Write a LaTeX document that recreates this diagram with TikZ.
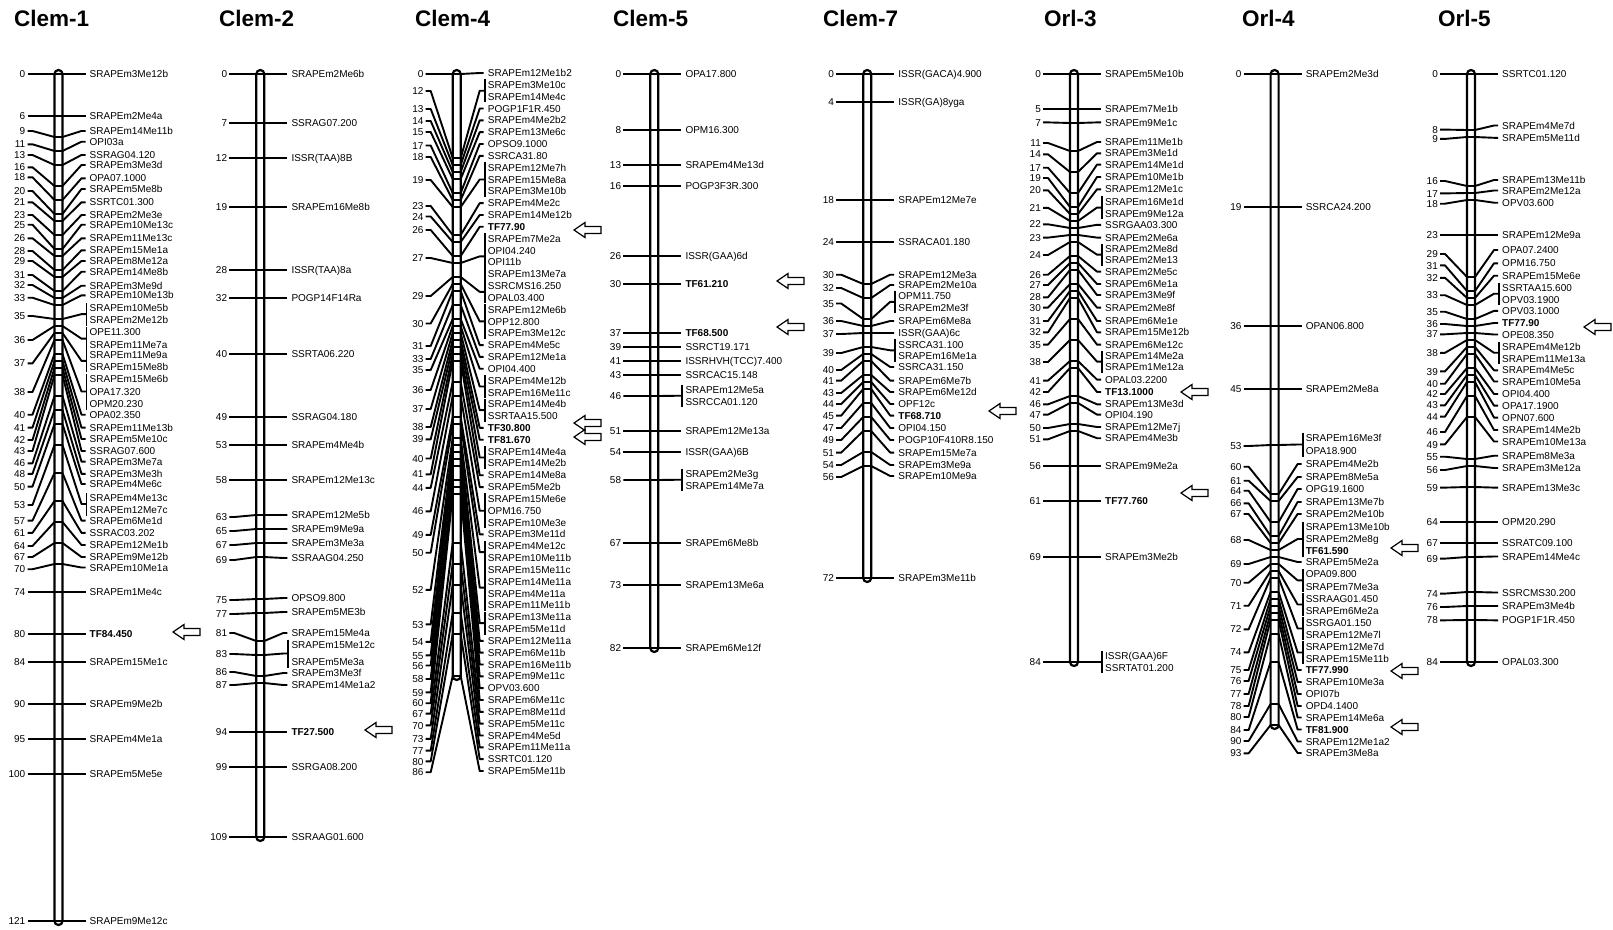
\documentclass[tikz,border=0pt]{standalone}
\usepackage{fontspec}
\setmainfont{Liberation Sans}
\newcommand\lbl{\fontsize{10}{11}\selectfont}
\newcounter{mkc}
% current linkage group: id and bar centre
\newcommand\setchr[2]{\def\cid{#1}\def\bx{#2}}
\newcommand\chrbar[1]{\draw[chrom] ({\bx-4},70) rectangle ({\bx+4},{#1});}
% row of a crowded label column
\newcommand\rw[1]{(73+11.83*(#1-1))}
% marker name
\newcommand\nm[3][]{\stepcounter{mkc}\node[lab,#1] (\cid-m\arabic{mkc}) at ({\bx+31},{#2}) {#3};}
% single marker: [style]{cM}{left y}{right y}{name}
\newcommand\mk[5][]{%
  \node[num] (\cid-#2) at ({\bx-33},{#3}) {#2};
  \nm[#1]{#4}{#5}%
  \draw[tick] (\cid-#2.east) ++(2,0) -- ++(5,0) -- ({\bx-4},{74+7*#2})
    -- ({\bx+4},{74+7*#2}) -- ({\bx+23},{#4}) -- ([xshift=-4pt]\cid-m\arabic{mkc}.west);
}
% bracketed markers: {cM}{left y}{first y}{last y}
\newcommand\mkg[4]{%
  \node[num] (\cid-#1) at ({\bx-33},{#2}) {#1};
  \coordinate (\cid-b#1) at ({\bx+28},{(#3+#4)/2});
  \draw[tick] (\cid-#1.east) ++(2,0) -- ++(5,0) -- ({\bx-4},{74+7*#1})
    -- ({\bx+4},{74+7*#1}) -- ({\bx+23},{(#3+#4)/2}) -- (\cid-b#1);
  \draw[tick] ({\bx+28},{#3-5.5}) -- ({\bx+28},{#4+5.5});
}
% hollow arrow pointing at a trait marker
\newcommand\tfar[2]{\draw[tfa] (#1,#2) -- ++(11,-7.5) -- ++(0,4) -- ++(16,0) -- ++(0,7) -- ++(-16,0) -- ++(0,4) -- cycle;}

\begin{document}
\begin{tikzpicture}[
  x=1pt, y=-1pt,
  num/.style={font=\lbl, anchor=east, inner sep=0pt, text height=7.2pt, text depth=0pt},
  lab/.style={font=\lbl, anchor=west, inner sep=0pt, text height=7.2pt, text depth=0pt},
  bold/.style={font=\lbl\bfseries},
  title/.style={font=\fontsize{22.5}{25}\selectfont\bfseries, anchor=west, inner sep=0pt},
  tick/.style={line width=1.9pt, line join=round},
  chrom/.style={line width=2.2pt, fill=white, rounded corners=4pt},
  tfa/.style={line width=1.2pt, fill=white, line join=miter}
]
\fill[white] (0,0) rectangle (1613,929);
\useasboundingbox (0,0) rectangle (1613,929);

% Clem-1
\setchr{c1}{58.5}
\node[title] (c1-t) at (14,18) {Clem-1};
\chrbar{925}
\mk{0}{74}{74}{SRAPEm3Me12b}
\mk{6}{116}{116}{SRAPEm2Me4a}
\mk{9}{131}{131}{SRAPEm14Me11b}
\mk{11}{144.3}{141.7}{OPI03a}
\mk{13}{155}{155}{SSRAG04.120}
\mk{16}{167.3}{165}{SRAPEm3Me3d}
\mk{18}{177.3}{178.3}{OPA07.1000}
\mk{20}{191}{189}{SRAPEm5Me8b}
\mk{21}{202.3}{202.3}{SSRTC01.300}
\mk{23}{215}{215}{SRAPEm2Me3e}
\mk{25}{224.7}{224.7}{SRAPEm10Me13c}
\mk{26}{238.3}{238.3}{SRAPEm11Me13c}
\mk{28}{251}{250.3}{SRAPEm15Me1a}
\mk{29}{261}{261}{SRAPEm8Me12a}
\mk{31}{275}{271.7}{SRAPEm14Me8b}
\mk{32}{285}{285.7}{SRAPEm3Me9d}
\mk{33}{297.7}{295.3}{SRAPEm10Me13b}
\mkg{35}{316}{308.3}{320}
\nm{308.3}{SRAPEm10Me5b}
\nm{320}{SRAPEm2Me12b}
\mkg{36}{340}{332.3}{345}
\nm{332.3}{OPE11.300}
\nm{345}{SRAPEm11Me7a}
\mkg{37}{363.3}{355}{366.7}
\nm{355}{SRAPEm11Me9a}
\nm{366.7}{SRAPEm15Me8b}
\mkg{38}{392}{379}{404}
\nm{379}{SRAPEm15Me6b}
\nm{391.5}{OPA17.320}
\nm{404}{OPM20.230}
\mk{40}{414.7}{414.7}{OPA02.350}
\mk{41}{427.6}{427.6}{SRAPEm11Me13b}
\mk{42}{440}{439}{SRAPEm5Me10c}
\mk{43}{451}{451}{SSRAG07.600}
\mk{46}{463.3}{461.6}{SRAPEm3Me7a}
\mk{48}{473.8}{473.8}{SRAPEm3Me3h}
\mk{50}{486.6}{484}{SRAPEm4Me6c}
\mkg{53}{505}{498}{510}
\nm{498}{SRAPEm4Me13c}
\nm{510}{SRAPEm12Me7c}
\mk{57}{520.6}{520.6}{SRAPEm6Me1d}
\mk{61}{532.8}{532.8}{SSRAC03.202}
\mk{64}{546}{545}{SRAPEm12Me1b}
\mk{67}{557}{557}{SRAPEm9Me12b}
\mk{70}{569.2}{567.5}{SRAPEm10Me1a}
\mk{74}{592}{592}{SRAPEm1Me4c}
\mk[bold]{80}{634}{634}{TF84.450}
\mk{84}{662}{662}{SRAPEm15Me1c}
\mk{90}{704}{704}{SRAPEm9Me2b}
\mk{95}{739}{739}{SRAPEm4Me1a}
\mk{100}{774}{774}{SRAPEm5Me5e}
\mk{121}{921}{921}{SRAPEm9Me12c}
\tfar{173}{632}

% Clem-2
\setchr{c2}{260.3}
\node[title] (c2-t) at (219,18) {Clem-2};
\chrbar{841}
\mk{0}{74}{74}{SRAPEm2Me6b}
\mk{7}{123}{123}{SSRAG07.200}
\mk{12}{158}{158}{ISSR(TAA)8B}
\mk{19}{207}{207}{SRAPEm16Me8b}
\mk{28}{270}{270}{ISSR(TAA)8a}
\mk{32}{298}{298}{POGP14F14Ra}
\mk{40}{354}{354}{SSRTA06.220}
\mk{49}{417}{417}{SSRAG04.180}
\mk{53}{445}{445}{SRAPEm4Me4b}
\mk{58}{480}{480}{SRAPEm12Me13c}
\mk{63}{517}{515}{SRAPEm12Me5b}
\mk{65}{531}{529}{SRAPEm9Me9a}
\mk{67}{545}{543}{SRAPEm3Me3a}
\mk{69}{560}{558}{SSRAAG04.250}
\mk{75}{600}{598}{OPSO9.800}
\mk{77}{614}{612}{SRAPEm5ME3b}
\mk{81}{633}{633}{SRAPEm15Me4a}
\mkg{83}{654}{645}{662}
\nm{645}{SRAPEm15Me12c}
\nm{662}{SRAPEm5Me3a}
\mk{86}{672}{673}{SRAPEm3Me3f}
\mk{87}{685}{685}{SRAPEm14Me1a2}
\mk[bold]{94}{732}{732}{TF27.500}
\mk{99}{767}{767}{SSRGA08.200}
\mk{109}{837}{837}{SSRAAG01.600}
\tfar{365}{730}

% Clem-4
\setchr{c4}{456.7}
\node[title] (c4-t) at (415,18) {Clem-4};
\chrbar{680}
\mk{0}{74}{\rw{1}}{SRAPEm12Me1b2}
\mkg{12}{91}{\rw{2}}{\rw{3}}
\nm{\rw{2}}{SRAPEm3Me10c}
\nm{\rw{3}}{SRAPEm14Me4c}
\mk{13}{109}{\rw{4}}{POGP1F1R.450}
\mk{14}{121}{\rw{5}}{SRAPEm4Me2b2}
\mk{15}{132}{\rw{6}}{SRAPEm13Me6c}
\mk{17}{145.5}{\rw{7}}{OPSO9.1000}
\mk{18}{157}{\rw{8}}{SSRCA31.80}
\mkg{19}{180}{\rw{9}}{\rw{11}}
\nm{\rw{9}}{SRAPEm12Me7h}
\nm{\rw{10}}{SRAPEm15Me8a}
\nm{\rw{11}}{SRAPEm3Me10b}
\mk{23}{206}{\rw{12}}{SRAPEm4Me2c}
\mk{24}{216.5}{\rw{13}}{SRAPEm14Me12b}
\mk[bold]{26}{230}{\rw{14}}{TF77.90}
\mkg{27}{258}{\rw{15}}{\rw{18}}
\nm{\rw{15}}{SRAPEm7Me2a}
\nm{\rw{16}}{OPI04.240}
\nm{\rw{17}}{OPI11b}
\nm{\rw{18}}{SRAPEm13Me7a}
\mkg{29}{296}{\rw{19}}{\rw{20}}
\nm{\rw{19}}{SSRCMS16.250}
\nm{\rw{20}}{OPAL03.400}
\mkg{30}{323.5}{\rw{21}}{\rw{23}}
\nm{\rw{21}}{SRAPEm12Me6b}
\nm{\rw{22}}{OPP12.800}
\nm{\rw{23}}{SRAPEm3Me12c}
\mk{31}{346}{\rw{24}}{SRAPEm4Me5c}
\mk{33}{359}{\rw{25}}{SRAPEm12Me1a}
\mk{35}{370}{\rw{26}}{OPI04.400}
\mkg{36}{390}{\rw{27}}{\rw{28}}
\nm{\rw{27}}{SRAPEm4Me12b}
\nm{\rw{28}}{SRAPEm16Me11c}
\mkg{37}{409}{\rw{29}}{\rw{30}}
\nm{\rw{29}}{SRAPEm14Me4b}
\nm{\rw{30}}{SSRTAA15.500}
\mk[bold]{38}{427}{\rw{31}}{TF30.800}
\mk[bold]{39}{439.3}{\rw{32}}{TF81.670}
\mkg{40}{458.5}{\rw{33}}{\rw{34}}
\nm{\rw{33}}{SRAPEm14Me4a}
\nm{\rw{34}}{SRAPEm14Me2b}
\mk{41}{474.3}{\rw{35}}{SRAPEm14Me8a}
\mk{44}{487.8}{\rw{36}}{SRAPEm5Me2b}
\mkg{46}{511.3}{\rw{37}}{\rw{39}}
\nm{\rw{37}}{SRAPEm15Me6e}
\nm{\rw{38}}{OPM16.750}
\nm{\rw{39}}{SRAPEm10Me3e}
\mk{49}{534.9}{\rw{40}}{SRAPEm3Me11d}
\mkg{50}{552.7}{\rw{41}}{\rw{42}}
\nm{\rw{41}}{SRAPEm4Me12c}
\nm{\rw{42}}{SRAPEm10Me11b}
\mkg{52}{589.8}{\rw{43}}{\rw{46}}
\nm{\rw{43}}{SRAPEm15Me11c}
\nm{\rw{44}}{SRAPEm14Me11a}
\nm{\rw{45}}{SRAPEm4Me11a}
\nm{\rw{46}}{SRAPEm11Me11b}
\mkg{53}{624.4}{\rw{47}}{\rw{48}}
\nm{\rw{47}}{SRAPEm13Me11a}
\nm{\rw{48}}{SRAPEm5Me11d}
\mk{54}{641.9}{\rw{49}}{SRAPEm12Me11a}
\mk{55}{655.4}{\rw{50}}{SRAPEm6Me11b}
\mk{56}{665.5}{\rw{51}}{SRAPEm16Me11b}
\mk{58}{679}{\rw{52}}{SRAPEm9Me11c}
\mk{59}{692.4}{\rw{53}}{OPV03.600}
\mk{60}{703.2}{\rw{54}}{SRAPEm6Me11c}
\mk{67}{713.6}{\rw{55}}{SRAPEm8Me11d}
\mk{70}{725.4}{\rw{56}}{SRAPEm5Me11c}
\mk{73}{738.9}{\rw{57}}{SRAPEm4Me5d}
\mk{77}{750.6}{\rw{58}}{SRAPEm11Me11a}
\mk{80}{761.4}{\rw{59}}{SSRTC01.120}
\mk{86}{772.2}{\rw{60}}{SRAPEm5Me11b}
\tfar{574}{230}
\tfar{574}{423}
\tfar{574}{437}

% Clem-5
\setchr{c5}{654.3}
\node[title] (c5-t) at (613,18) {Clem-5};
\chrbar{652}
\mk{0}{74}{74}{OPA17.800}
\mk{8}{130}{130}{OPM16.300}
\mk{13}{165}{165}{SRAPEm4Me13d}
\mk{16}{186}{186}{POGP3F3R.300}
\mk{26}{256}{256}{ISSR(GAA)6d}
\mk[bold]{30}{284}{284}{TF61.210}
\mk[bold]{37}{333}{333}{TF68.500}
\mk{39}{347}{347}{SSRCT19.171}
\mk{41}{361}{361}{ISSRHVH(TCC)7.400}
\mk{43}{375}{375}{SSRCAC15.148}
\mkg{46}{396}{390}{401.5}
\nm{390}{SRAPEm12Me5a}
\nm{401.5}{SSRCCA01.120}
\mk{51}{431}{431}{SRAPEm12Me13a}
\mk{54}{452}{452}{ISSR(GAA)6B}
\mkg{58}{480}{474}{485.5}
\nm{474}{SRAPEm2Me3g}
\nm{485.5}{SRAPEm14Me7a}
\mk{67}{543}{543}{SRAPEm6Me8b}
\mk{73}{585}{585}{SRAPEm13Me6a}
\mk{82}{648}{648}{SRAPEm6Me12f}
\tfar{777}{281}
\tfar{777}{327}

% Clem-7
\setchr{c7}{867.2}
\node[title] (c7-t) at (823,18) {Clem-7};
\chrbar{582}
\mk{0}{74}{74}{ISSR(GACA)4.900}
\mk{4}{102}{102}{ISSR(GA)8yga}
\mk{18}{200}{200}{SRAPEm12Me7e}
\mk{24}{242}{242}{SSRACA01.180}
\mk{30}{274.7}{274.7}{SRAPEm12Me3a}
\mk{32}{288}{285}{SRAPEm2Me10a}
\mkg{35}{303.5}{296}{307.6}
\nm{296}{OPM11.750}
\nm{307.6}{SRAPEm2Me3f}
\mk{36}{321}{321}{SRAPEm6Me8a}
\mk{37}{334}{333}{ISSR(GAA)6c}
\mkg{39}{353}{344.6}{356}
\nm{344.6}{SSRCA31.100}
\nm{356}{SRAPEm16Me1a}
\mk{40}{370}{367}{SSRCA31.150}
\mk{41}{380.6}{380.6}{SRAPEm6Me7b}
\mk{43}{393}{392}{SRAPEm6Me12d}
\mk{44}{404}{404}{OPF12c}
\mk[bold]{45}{415.6}{415.6}{TF68.710}
\mk{47}{428}{428}{OPI04.150}
\mk{49}{440}{440}{POGP10F410R8.150}
\mk{51}{452.6}{452.6}{SRAPEm15Me7a}
\mk{54}{465}{465}{SRAPEm3Me9a}
\mk{56}{477}{476}{SRAPEm10Me9a}
\mk{72}{578}{578}{SRAPEm3Me11b}
\tfar{989}{411}

% Orl-3
\setchr{o3}{1074}
\node[title] (o3-t) at (1044,18) {Orl-3};
\chrbar{666}
\mk{0}{74}{74}{SRAPEm5Me10b}
\mk{5}{109}{109}{SRAPEm7Me1b}
\mk{7}{122.4}{122.4}{SRAPEm9Me1c}
\mk{11}{143}{142}{SRAPEm11Me1b}
\mk{14}{154.3}{153.3}{SRAPEm3Me1d}
\mk{17}{167.7}{164.6}{SRAPEm14Me1d}
\mk{19}{178}{177}{SRAPEm10Me1b}
\mk{20}{190.3}{189.3}{SRAPEm12Me1c}
\mkg{21}{207.8}{201.6}{213.5}
\nm{201.6}{SRAPEm16Me1d}
\nm{213.5}{SRAPEm9Me12a}
\mk{22}{224.3}{224.8}{SSRGAA03.300}
\mk{23}{237.6}{237.6}{SRAPEm2Me6a}
\mkg{24}{255}{249}{260.3}
\nm{249}{SRAPEm2Me8d}
\nm{260.3}{SRAPEm2Me13}
\mk{26}{274.7}{271.6}{SRAPEm2Me5c}
\mk{27}{285}{284}{SRAPEm6Me1a}
\mk{28}{297.3}{295}{SRAPEm3Me9f}
\mk{30}{307.6}{307.6}{SRAPEm2Me8f}
\mk{31}{321}{321}{SRAPEm6Me1e}
\mk{32}{332.3}{332.3}{SRAPEm15Me12b}
\mk{35}{344.6}{344.6}{SRAPEm6Me12c}
\mkg{38}{362}{356}{367.3}
\nm{356}{SRAPEm14Me2a}
\nm{367.3}{SRAPEm1Me12a}
\mk{41}{380.6}{379.6}{OPAL03.2200}
\mk[bold]{42}{392}{392}{TF13.1000}
\mk{46}{404.3}{404.3}{SRAPEm13Me3d}
\mk{47}{414.6}{414.6}{OPI04.190}
\mk{50}{428}{427}{SRAPEm12Me7j}
\mk{51}{439.3}{438.2}{SRAPEm4Me3b}
\mk{56}{466}{466}{SRAPEm9Me2a}
\mk[bold]{61}{501}{501}{TF77.760}
\mk{69}{557}{557}{SRAPEm3Me2b}
\mkg{84}{662}{656.3}{667.6}
\nm{656.3}{ISSR(GAA)6F}
\nm{667.6}{SSRTAT01.200}
\tfar{1181}{392}
\tfar{1181}{493}

% Orl-4
\setchr{o4}{1274.6}
\node[title] (o4-t) at (1242,18) {Orl-4};
\chrbar{729}
\mk{0}{74}{74}{SRAPEm2Me3d}
\mk{19}{207}{207}{SSRCA24.200}
\mk{36}{326}{326}{OPAN06.800}
\mk{45}{389}{389}{SRAPEm2Me8a}
\mkg{53}{446}{438}{451}
\nm{438}{SRAPEm16Me3f}
\nm{451}{OPA18.900}
\mk{60}{466.7}{464}{SRAPEm4Me2b}
\mk{61}{480.7}{477}{SRAPEm8Me5a}
\mk{64}{490.7}{489}{OPG19.1600}
\mk{66}{503.3}{502}{SRAPEm13Me7b}
\mk{67}{514}{514}{SRAPEm2Me10b}
\mkg{68}{540}{527}{551}
\nm{527}{SRAPEm13Me10b}
\nm{539}{SRAPEm2Me8g}
\nm[bold]{551}{TF61.590}
\mk{69}{564}{562}{SRAPEm5Me2a}
\mkg{70}{582.7}{574.3}{586.5}
\nm{574.3}{OPA09.800}
\nm{586.5}{SRAPEm7Me3a}
\mkg{71}{605.7}{598.5}{610.5}
\nm{598.5}{SSRAAG01.450}
\nm{610.5}{SRAPEm6Me2a}
\mkg{72}{629.3}{622.5}{634.5}
\nm{622.5}{SSRGA01.150}
\nm{634.5}{SRAPEm12Me7l}
\mkg{74}{652.3}{646.5}{658.5}
\nm{646.5}{SRAPEm12Me7d}
\nm{658.5}{SRAPEm15Me11b}
\mk[bold]{75}{670}{670}{TF77.990}
\mk{76}{681}{682}{SRAPEm10Me3a}
\mk{77}{694}{694}{OPI07b}
\mk{78}{706}{706}{OPD4.1400}
\mk{80}{717}{717.5}{SRAPEm14Me6a}
\mk[bold]{84}{730}{729.5}{TF81.900}
\mk{90}{741}{741.5}{SRAPEm12Me1a2}
\mk{93}{753.3}{753}{SRAPEm3Me8a}
\tfar{1391}{548}
\tfar{1391}{671}
\tfar{1391}{727}

% Orl-5
\setchr{o5}{1471}
\node[title] (o5-t) at (1438,18) {Orl-5};
\chrbar{666}
\mk{0}{74}{74}{SSRTC01.120}
\mk{8}{129.6}{125.5}{SRAPEm4Me7d}
\mk{9}{138.9}{137.8}{SRAPEm5Me11d}
\mk{16}{181}{180}{SRAPEm13Me11b}
\mk{17}{193.4}{190.5}{SRAPEm2Me12a}
\mk{18}{203.7}{202.7}{OPV03.600}
\mk{23}{235}{235}{SRAPEm12Me9a}
\mk{29}{254}{250}{OPA07.2400}
\mk{31}{265.4}{263.3}{OPM16.750}
\mk{32}{277.8}{275.7}{SRAPEm15Me6e}
\mkg{33}{295.2}{288}{299.4}
\nm{288}{SSRTAA15.600}
\nm{299.4}{OPV03.1900}
\mk{35}{311.7}{310.9}{OPV03.1000}
\mk[bold]{36}{324}{323}{TF77.90}
\mk{37}{334.3}{334.5}{OPE08.350}
\mkg{38}{352.8}{347}{358.5}
\nm{347}{SRAPEm4Me12b}
\nm{358.5}{SRAPEm11Me13a}
\mk{39}{371.4}{370.3}{SRAPEm4Me5c}
\mk{40}{383.7}{381.5}{SRAPEm10Me5a}
\mk{42}{394}{394}{OPI04.400}
\mk{43}{405.3}{405.6}{OPA17.1900}
\mk{44}{416.6}{417.6}{OPN07.600}
\mk{46}{432}{430}{SRAPEm14Me2b}
\mk{49}{444.4}{441.5}{SRAPEm10Me13a}
\mk{55}{456.7}{455.7}{SRAPEm8Me3a}
\mk{56}{470}{468}{SRAPEm3Me12a}
\mk{59}{487.6}{487.6}{SRAPEm13Me3c}
\mk{64}{522}{522}{OPM20.290}
\mk{67}{543}{543}{SSRATC09.100}
\mk{69}{558.6}{556.5}{SRAPEm14Me4c}
\mk{74}{593.6}{592.5}{SSRCMS30.200}
\mk{76}{607}{606}{SRAPEm3Me4b}
\mk{78}{620.3}{620.3}{POGP1F1R.450}
\mk{84}{662}{662}{OPAL03.300}
\tfar{1584}{327}
\end{tikzpicture}
\end{document}
